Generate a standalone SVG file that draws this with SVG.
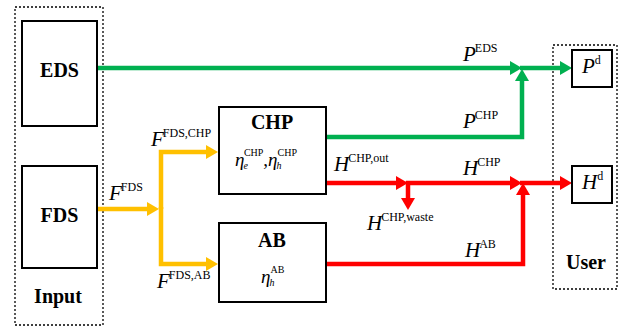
<svg xmlns="http://www.w3.org/2000/svg" width="624" height="328" viewBox="0 0 624 328">
<style>
.box{fill:#fff;stroke:#000;stroke-width:2}
.grp{fill:none;stroke:#000;stroke-width:1.3;stroke-dasharray:2 2}
text{font-family:'Liberation Serif','Times New Roman','DejaVu Serif',serif}
.b{font-weight:bold;font-size:20px;fill:#000;text-anchor:middle}
.m{font-style:italic;font-size:21px;fill:#000}
.s{font-style:normal;font-size:12px}
.e{font-style:italic;font-size:19px;fill:#000}
.es{font-style:normal;font-size:10px}
.sub{font-size:10px}
.g{fill:none;stroke:#00B050;stroke-width:4.5}
.y{fill:none;stroke:#FFC000;stroke-width:4.5}
.r{fill:none;stroke:#FF0000;stroke-width:4.5}
</style>
<defs>
<marker id="ag" markerUnits="userSpaceOnUse" markerWidth="14" markerHeight="16" refX="0" refY="7" orient="auto" overflow="visible"><path d="M0,0 L12,7 L0,14 z" fill="#00B050"/></marker>
<marker id="ay" markerUnits="userSpaceOnUse" markerWidth="14" markerHeight="16" refX="0" refY="7" orient="auto" overflow="visible"><path d="M0,0 L12,7 L0,14 z" fill="#FFC000"/></marker>
<marker id="ar" markerUnits="userSpaceOnUse" markerWidth="14" markerHeight="16" refX="0" refY="7" orient="auto" overflow="visible"><path d="M0,0 L12,7 L0,14 z" fill="#FF0000"/></marker>
</defs>
<g id="input-group">
<rect class="grp" x="15" y="7" width="88" height="318"/>
<text class="b" x="58" y="303" font-family="Liberation Serif" font-size="18">Input</text>
</g>
<g id="user-group">
<rect class="grp" x="553" y="45" width="64" height="244"/>
<text class="b" x="586" y="269" font-family="Liberation Serif" font-size="18">User</text>
</g>
<g id="connectors">
<path class="g" d="M97,68 H510" marker-end="url(#ag)"/>
<path class="g" d="M520,68 H560" marker-end="url(#ag)"/>
<path class="g" d="M326,137 H522 V81" stroke-linejoin="miter" marker-end="url(#ag)"/>
<path class="y" d="M97,209 H147" marker-end="url(#ay)"/>
<path class="y" d="M161,209 V152 H206" marker-end="url(#ay)"/>
<path class="y" d="M161,207 V264 H206" marker-end="url(#ay)"/>
<path class="r" d="M326,183 H396" marker-end="url(#ar)"/>
<path class="r" d="M406,183 H510" marker-end="url(#ar)"/>
<path class="r" d="M408,181 V198" marker-end="url(#ar)"/>
<path class="r" d="M326,264 H523 V195" marker-end="url(#ar)"/>
<path class="r" d="M520,183 H560" marker-end="url(#ar)"/>
</g>
<g id="EDS"><rect class="box" x="22" y="21" width="75" height="105"/><text class="b" x="59.5" y="77" font-family="Liberation Serif">EDS</text></g>
<g id="FDS"><rect class="box" x="22" y="166" width="75" height="102"/><text class="b" x="59.5" y="222" font-family="Liberation Serif">FDS</text></g>
<g id="CHP"><rect class="box" x="219" y="107" width="107" height="87"/><text class="b" x="272" y="129" font-family="Liberation Serif">CHP</text>
<text class="e" x="235" y="166" font-family="Liberation Serif">η<tspan class="sub" dx="-1" dy="3">e</tspan><tspan class="es" dx="-4" dy="-13">CHP</tspan><tspan dy="10" font-style="normal">,</tspan>η<tspan class="sub" dx="-1" dy="3">h</tspan><tspan class="es" dx="-4" dy="-13">CHP</tspan></text>
</g>
<g id="AB"><rect class="box" x="219" y="223" width="107" height="79"/><text class="b" x="272" y="247" font-family="Liberation Serif">AB</text>
<text class="e" x="261" y="283" font-family="Liberation Serif">η<tspan class="sub" dx="-1" dy="3">h</tspan><tspan class="es" dx="-4" dy="-13">AB</tspan></text>
</g>
<g id="Pd"><rect class="box" x="572" y="50" width="40" height="37"/><text class="m" x="582" y="73" font-family="Liberation Serif" font-size="19">P<tspan class="s" font-size="11" dy="-9">d</tspan></text></g>
<g id="Hd"><rect class="box" x="572" y="166" width="40" height="37"/><text class="m" x="582" y="189" font-family="Liberation Serif" font-size="19">H<tspan class="s" font-size="11" dy="-9">d</tspan></text></g>
<g id="labels" font-family="Liberation Serif">
<text class="m" x="109" y="200">F<tspan class="s" dx="-1" dy="-9">FDS</tspan></text>
<text class="m" x="151" y="146">F<tspan class="s" dx="-1" dy="-9">FDS,CHP</tspan></text>
<text class="m" x="157" y="288">F<tspan class="s" dx="-1" dy="-9">FDS,AB</tspan></text>
<text class="m" x="463" y="61">P<tspan class="s" dx="-1" dy="-9">EDS</tspan></text>
<text class="m" x="463" y="128">P<tspan class="s" dx="-1" dy="-9">CHP</tspan></text>
<text class="m" x="334" y="171">H<tspan class="s" dx="-1" dy="-9">CHP,out</tspan></text>
<text class="m" x="367" y="230">H<tspan class="s" dx="-1" dy="-9">CHP,waste</tspan></text>
<text class="m" x="463" y="175">H<tspan class="s" dx="-1" dy="-9">CHP</tspan></text>
<text class="m" x="465" y="257">H<tspan class="s" dx="-1" dy="-9">AB</tspan></text>
</g>
</svg>
